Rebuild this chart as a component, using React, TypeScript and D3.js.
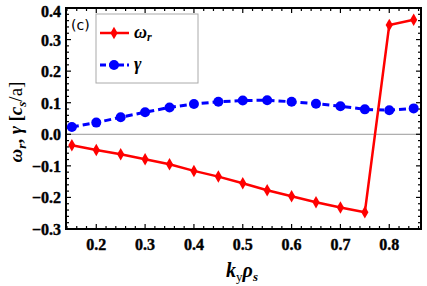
import React, { useEffect, useRef } from 'react';
import * as d3 from 'd3';

const kValues = [0.15, 0.2, 0.25, 0.3, 0.35, 0.4, 0.45, 0.5, 0.55, 0.6, 0.65, 0.7, 0.75, 0.8, 0.85];
const omegaValues = [-0.035, -0.05, -0.063, -0.079, -0.095, -0.116, -0.134, -0.155, -0.177, -0.196, -0.215, -0.232, -0.247, 0.346, 0.363];
const gammaValues = [0.023, 0.037, 0.054, 0.07, 0.085, 0.096, 0.103, 0.107, 0.108, 0.103, 0.097, 0.089, 0.079, 0.076, 0.082];
const xTicks = [0.2, 0.3, 0.4, 0.5, 0.6, 0.7, 0.8];
const yTicks = [-0.3, -0.2, -0.1, 0.0, 0.1, 0.2, 0.3, 0.4];

const W = 427;
const H = 286;
const margin = { top: 8, right: 6, bottom: 57, left: 66 };

const App = () => {
  const ref = useRef<SVGSVGElement>(null);

  useEffect(() => {
    const svg = d3.select(ref.current);
    svg.selectAll('*').remove();

    const x = d3.scaleLinear().domain([0.138, 0.865]).range([margin.left, W - margin.right]);
    const y = d3.scaleLinear().domain([-0.3, 0.4]).range([H - margin.bottom, margin.top]);
    const font = "'Liberation Serif', 'DejaVu Serif', serif";

    // zero line
    svg.append('line')
      .attr('x1', x.range()[0]).attr('x2', x.range()[1])
      .attr('y1', y(0)).attr('y2', y(0))
      .attr('stroke', '#999').attr('stroke-width', 1);

    // ticks (inward, mirrored on all sides)
    const minorX = d3.range(0.14, 0.8651, 0.02);
    const minorY = d3.range(-0.3, 0.4001, 0.02);
    const tg = svg.append('g').attr('stroke', '#000').attr('stroke-width', 1.2);
    minorX.forEach(v => {
      const major = xTicks.some(t => Math.abs(t - v) < 1e-6);
      const len = major ? 5 : 3;
      tg.append('line').attr('x1', x(v)).attr('x2', x(v)).attr('y1', y.range()[0]).attr('y2', y.range()[0] - len);
      tg.append('line').attr('x1', x(v)).attr('x2', x(v)).attr('y1', y.range()[1]).attr('y2', y.range()[1] + len);
    });
    minorY.forEach(v => {
      const major = yTicks.some(t => Math.abs(t - v) < 1e-6);
      const len = major ? 5 : 3;
      tg.append('line').attr('y1', y(v)).attr('y2', y(v)).attr('x1', x.range()[0]).attr('x2', x.range()[0] + len);
      tg.append('line').attr('y1', y(v)).attr('y2', y(v)).attr('x1', x.range()[1]).attr('x2', x.range()[1] - len);
    });

    // frame
    svg.append('rect')
      .attr('x', x.range()[0]).attr('y', y.range()[1])
      .attr('width', x.range()[1] - x.range()[0])
      .attr('height', y.range()[0] - y.range()[1])
      .attr('fill', 'none').attr('stroke', '#000').attr('stroke-width', 2);

    // tick labels
    svg.append('g').selectAll('text').data(xTicks).join('text')
      .attr('x', d => x(d)).attr('y', y.range()[0] + 21)
      .attr('text-anchor', 'middle')
      .attr('font-family', font).attr('font-weight', 'bold').attr('font-size', 16)
      .attr('stroke', '#000').attr('stroke-width', 0.4)
      .text(d => d.toFixed(1));
    svg.append('g').selectAll('text').data(yTicks).join('text')
      .attr('x', x.range()[0] - 5).attr('y', d => y(d) + (d === 0.4 ? 9 : 6))
      .attr('text-anchor', 'end')
      .attr('font-family', font).attr('font-weight', 'bold').attr('font-size', 16)
      .attr('stroke', '#000').attr('stroke-width', 0.4)
      .text(d => (d < 0 ? '\u2212' : '') + Math.abs(d).toFixed(1));

    // axis titles
    const xt = svg.append('text')
      .attr('x', 242).attr('y', 277)
      .attr('text-anchor', 'middle')
      .attr('font-family', font).attr('font-weight', 'bold').attr('font-style', 'italic').attr('font-size', 20);
    xt.append('tspan').text('k');
    xt.append('tspan').attr('font-size', 13).attr('font-style', 'normal').attr('font-weight', 'normal').attr('dy', 4).text('y');
    xt.append('tspan').attr('dy', -4).text('ρ');
    xt.append('tspan').attr('font-size', 13).attr('dy', 4).text('s');

    const yt = svg.append('text')
      .attr('transform', `translate(22,${122}) rotate(-90)`)
      .attr('text-anchor', 'middle')
      .attr('font-family', font).attr('font-weight', 'bold').attr('font-size', 19);
    yt.append('tspan').attr('font-style', 'italic').text('ω');
    yt.append('tspan').attr('font-style', 'italic').attr('font-size', 13).attr('dy', 4).text('r');
    yt.append('tspan').attr('dy', -4).text(', ');
    yt.append('tspan').attr('font-style', 'italic').text('γ');
    yt.append('tspan').text(' [');
    yt.append('tspan').attr('font-style', 'italic').text('c');
    yt.append('tspan').attr('font-style', 'italic').attr('font-size', 13).attr('dy', 4).text('s');
    yt.append('tspan').attr('dy', -4).attr('font-weight', 'normal').text('/a]');

    // series
    const omegaPts = kValues.map((k, i) => [k, omegaValues[i]] as [number, number]);
    const gammaPts = kValues.map((k, i) => [k, gammaValues[i]] as [number, number]);
    const line = d3.line<[number, number]>().x(d => x(d[0])).y(d => y(d[1]));

    svg.append('path').attr('d', line(gammaPts)!)
      .attr('fill', 'none').attr('stroke', '#0000ff').attr('stroke-width', 3)
      .attr('stroke-dasharray', '7,4');
    svg.append('g').selectAll('circle').data(gammaPts).join('circle')
      .attr('cx', d => x(d[0])).attr('cy', d => y(d[1])).attr('r', 5)
      .attr('fill', '#0000ff');

    svg.append('path').attr('d', line(omegaPts)!)
      .attr('fill', 'none').attr('stroke', '#ff0000').attr('stroke-width', 2.5);
    const diamond = d3.symbol().type(d3.symbolDiamond).size(45);
    svg.append('g').selectAll('path').data(omegaPts).join('path')
      .attr('transform', d => `translate(${x(d[0])},${y(d[1])})`)
      .attr('d', diamond()!)
      .attr('fill', '#ff0000');

    // legend
    svg.append('rect')
      .attr('x', 96).attr('y', 14).attr('width', 102).attr('height', 69)
      .attr('fill', '#fff').attr('stroke', '#aaa').attr('stroke-width', 1);
    svg.append('line').attr('x1', 100).attr('x2', 129).attr('y1', 33).attr('y2', 33)
      .attr('stroke', '#ff0000').attr('stroke-width', 2.5);
    svg.append('path').attr('transform', 'translate(114,33)').attr('d', diamond()!).attr('fill', '#ff0000');
    const l1 = svg.append('text').attr('x', 134).attr('y', 38)
      .attr('font-family', font).attr('font-weight', 'bold').attr('font-style', 'italic').attr('font-size', 18);
    l1.append('tspan').text('ω');
    l1.append('tspan').attr('font-size', 12).attr('dy', 3).text('r');

    svg.append('line').attr('x1', 100).attr('x2', 129).attr('y1', 65).attr('y2', 65)
      .attr('stroke', '#0000ff').attr('stroke-width', 3).attr('stroke-dasharray', '6,3');
    svg.append('circle').attr('cx', 114).attr('cy', 65).attr('r', 5).attr('fill', '#0000ff');
    svg.append('text').attr('x', 134).attr('y', 70)
      .attr('font-family', font).attr('font-weight', 'bold').attr('font-style', 'italic').attr('font-size', 18)
      .text('γ');

    svg.append('text').attr('x', 71).attr('y', 30)
      .attr('font-family', "'DejaVu Sans', sans-serif").attr('font-size', 14)
      .text('(c)');
  }, []);

  return (
    <svg ref={ref} width={W} height={H} style={{ position: 'absolute', left: 0, top: 0, background: '#fff' }} />
  );
};

export default App;
